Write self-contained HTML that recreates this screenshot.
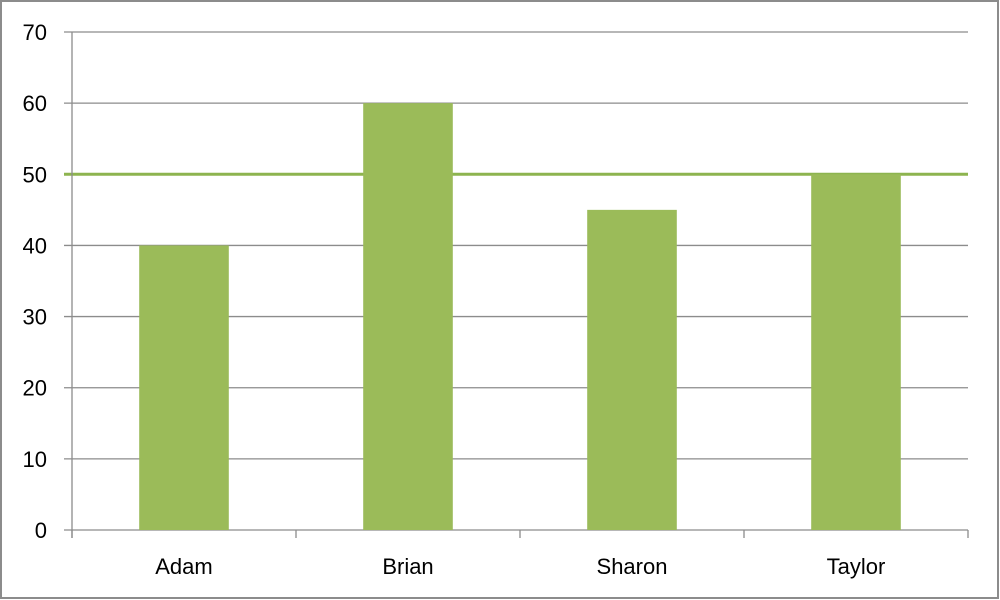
<!DOCTYPE html>
<html><head><meta charset="utf-8"><style>
html,body{margin:0;padding:0;background:#fff;}
svg{display:block;font-family:"Liberation Sans",sans-serif;}
</style></head><body>
<svg id="chart" width="1000" height="600">
<rect x="1" y="1" width="997" height="597" fill="#fff" stroke="#8c8c8c" stroke-width="2"/>
<g id="grid"></g><g id="target"></g><g id="bars"></g><g id="axes"></g>
</svg>
<script>
const categories=["Adam","Brian","Sharon","Taylor"];
const values=[40,60,45,50];
const targetValue=[50];
const yTicks=[0,10,20,30,40,50,60,70];
const NS="http://www.w3.org/2000/svg";
const L=72,R=968,T=32,B=530,yMax=70;
const y=v=>B-(v/yMax)*(B-T);
const bw=(R-L)/categories.length;
const x=i=>L+bw*i;
function mk(tag,attrs,parent,text){const e=document.createElementNS(NS,tag);for(const k in attrs)e.setAttribute(k,attrs[k]);if(text!==undefined)e.textContent=text;document.getElementById(parent).appendChild(e);return e;}
yTicks.forEach(t=>{
  const g=mk('line',{x1:L-8,x2:R,y1:y(t),y2:y(t),stroke:'#8c8c8c','stroke-width':1.3},'grid');
  
  
  const lb=mk('text',{x:47,y:y(t)+8,'text-anchor':'end','font-size':22,fill:'#000'},'axes',String(t));
  
  
});
const ax=mk('line',{x1:L,x2:L,y1:T,y2:B+8,stroke:'#8c8c8c','stroke-width':1.3},'axes');


for(let i=0;i<=categories.length;i++){
  const tk=mk('line',{x1:x(i),x2:x(i),y1:B,y2:B+8,stroke:'#8c8c8c','stroke-width':1.3},'axes');
  
  
}
categories.forEach((c,i)=>{
  const w=bw*0.4,cx=x(i)+bw/2;
  const r=mk('rect',{x:cx-w/2,y:y(values[i]),width:w,height:B-y(values[i]),fill:'#9bbb59'},'bars');
  
  
  const lb=mk('text',{x:cx,y:574,'text-anchor':'middle','font-size':22,fill:'#000'},'axes',c);
  
  
});
const tl=mk('line',{x1:L-8,x2:R,y1:y(targetValue[0]),y2:y(targetValue[0]),stroke:'#8db44f','stroke-width':3},'target');


</script>
</body></html>
